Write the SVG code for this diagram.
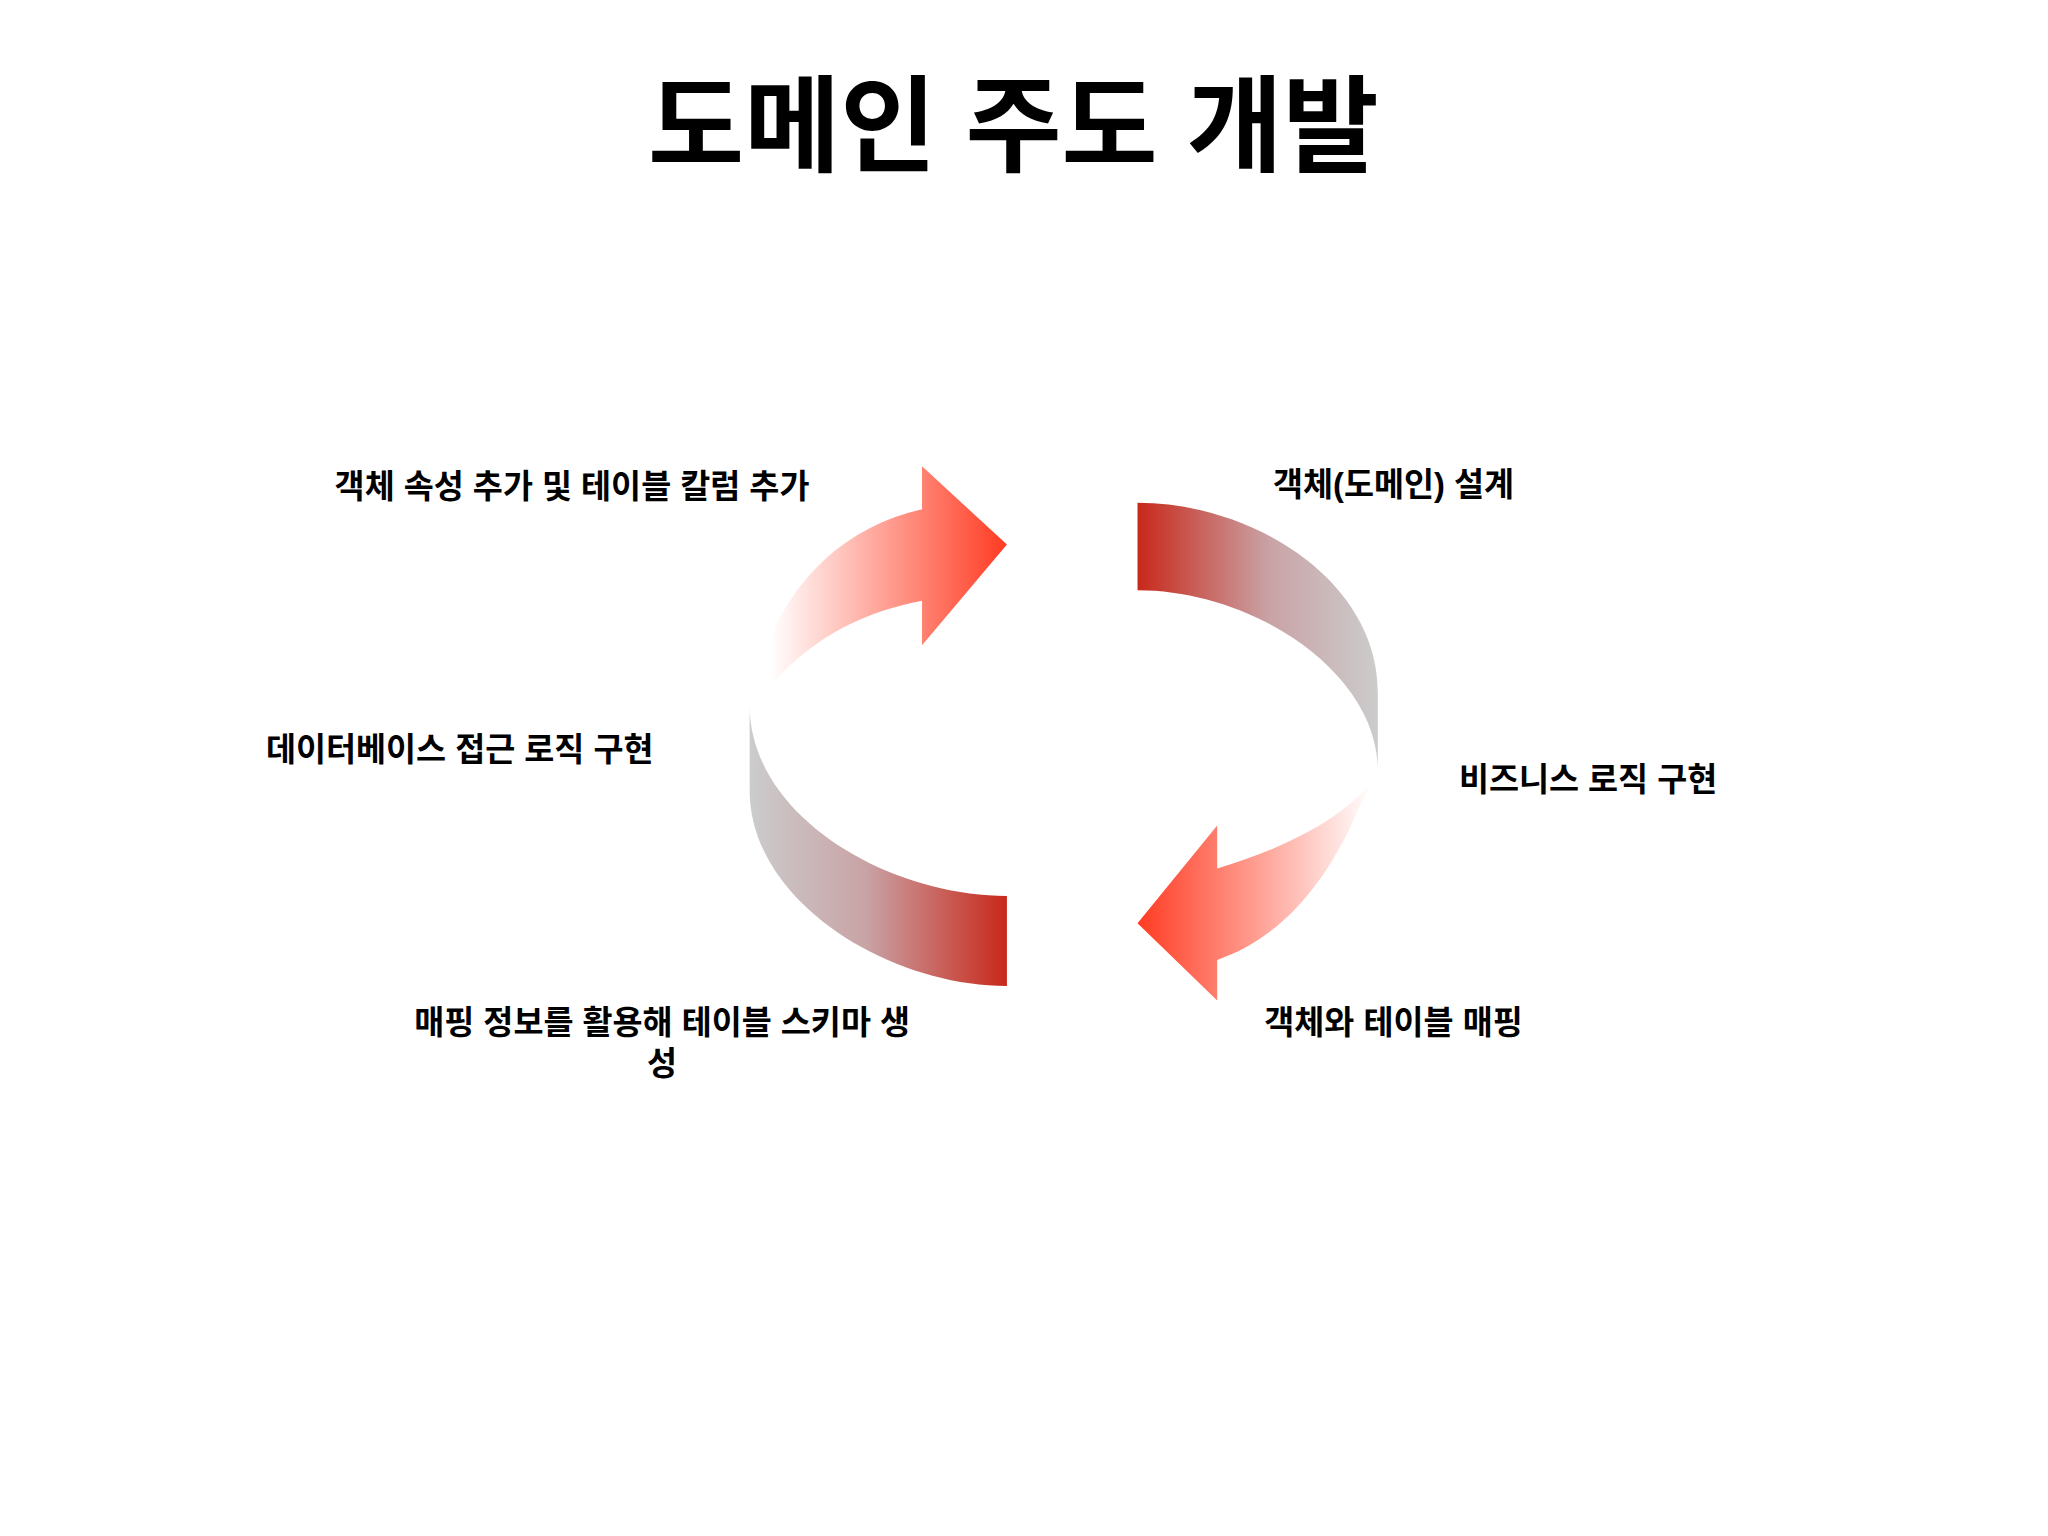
<svg xmlns="http://www.w3.org/2000/svg" width="2048" height="1536" viewBox="0 0 2048 1536">
<defs>
<linearGradient id="gR" x1="871" y1="0" x2="1055" y2="0" gradientUnits="userSpaceOnUse"><stop offset="0" stop-color="#c8281a"/><stop offset="0.55" stop-color="#c9a3a6"/><stop offset="1" stop-color="#cccccc"/></linearGradient>
<linearGradient id="gBL" x1="574" y1="0" x2="771" y2="0" gradientUnits="userSpaceOnUse"><stop offset="0" stop-color="#cccccc"/><stop offset="0.45" stop-color="#c9a3a6"/><stop offset="1" stop-color="#c8281a"/></linearGradient>
<linearGradient id="gTL" x1="590" y1="0" x2="771" y2="0" gradientUnits="userSpaceOnUse"><stop offset="0" stop-color="#ffffff"/><stop offset="1" stop-color="#ff3b22"/></linearGradient>
<linearGradient id="gBR" x1="1050" y1="0" x2="871" y2="0" gradientUnits="userSpaceOnUse"><stop offset="0" stop-color="#ffffff"/><stop offset="1" stop-color="#ff3b22"/></linearGradient>
</defs>
<style>
text{font-family:"Liberation Sans","Noto Sans CJK KR",sans-serif;fill:#000;text-anchor:middle}
.t{font-size:80px;font-weight:bold}
.l{font-size:25px;font-weight:bold}
</style>
<rect width="2048" height="1536" fill="#fff"/>
<g transform="scale(1.306)">
<g id="title"><text class="t" x="776" y="125">도메인 주도 개발</text></g>
<g id="connectors">
<path id="bandR" d="M871,385 C960,385 1055,445 1055,530 L1055,590 C1055,515 960,452 871,452 Z" fill="url(#gR)"/>
<path id="bandBL" d="M771,686 C680,686 574,625 574,540 L574,605 C574,690 680,755 771,755 Z" fill="url(#gBL)"/>
<path id="arrowTL" d="M590,525 C625,485 665,468 706,460 L706,494 L771,417 L706,357 L706,390 C640,405 590,455 574,540 Z" fill="url(#gTL)"/>
<path id="arrowBR" d="M1040,620 C1010,690 970,722 932,735 L932,766 L871,707 L932,632 L932,665 C990,648 1040,620 1055,590 Z" fill="url(#gBR)"/>
</g>
<g id="n1"><text class="l" x="1067" y="380">객체(도메인) 설계</text></g>
<g id="n2"><text class="l" x="1216" y="606">비즈니스 로직 구현</text></g>
<g id="n3"><text class="l" x="1067" y="792">객체와 테이블 매핑</text></g>
<g id="n4"><text class="l" x="507" y="792">매핑 정보를 활용해 테이블 스키마 생</text><text class="l" x="507" y="823">성</text></g>
<g id="n5"><text class="l" x="352" y="583">데이터베이스 접근 로직 구현</text></g>
<g id="n6"><text class="l" x="438" y="381">객체 속성 추가 및 테이블 칼럼 추가</text></g>
</g>
</svg>
